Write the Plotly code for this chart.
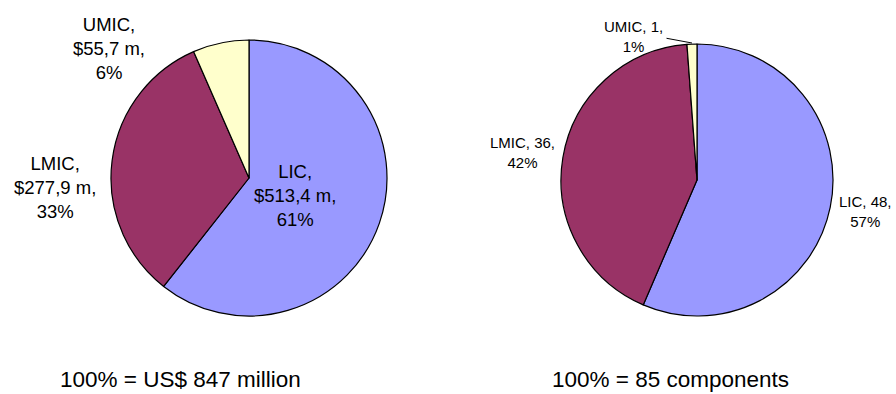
import plotly.graph_objects as go

# Funding split by income group
categories = ["LIC", "LMIC", "UMIC"]
funding_musd = [513.4, 277.9, 55.7]
funding_pct = ["61%", "33%", "6%"]
funding_total = "100% = US$ 847 million"

# Number of components by income group
components = [48, 36, 1]
components_pct = ["57%", "42%", "1%"]
components_total = "100% = 85 components"

colors = ["#9999FF", "#993366", "#FFFFCC"]
W, H = 896, 394
FONT = "Liberation Sans, Arial, sans-serif"


def px_x(x):
    return x / W


def px_y(y):
    return 1 - y / H


def money(v):
    return "$" + f"{v:.1f}".replace(".", ",") + " m"


def label(x, y, text, size):
    return dict(
        x=px_x(x), y=px_y(y), xref="paper", yref="paper", showarrow=False,
        xanchor="center", yanchor="middle", align="center", text=text,
        font=dict(family=FONT, size=size, color="black"),
    )


fig = go.Figure()

fig.add_trace(go.Pie(
    labels=categories, values=funding_musd, sort=False, direction="clockwise",
    rotation=0, marker=dict(colors=colors, line=dict(color="black", width=1.2)),
    textinfo="none", hoverinfo="label+value+percent", showlegend=False,
    domain=dict(x=[px_x(111), px_x(387)], y=[px_y(316), px_y(40)]),
))

fig.add_trace(go.Pie(
    labels=categories, values=components, sort=False, direction="clockwise",
    rotation=0, marker=dict(colors=colors, line=dict(color="black", width=1.2)),
    textinfo="none", hoverinfo="label+value+percent", showlegend=False,
    domain=dict(x=[px_x(561), px_x(833)], y=[px_y(316), px_y(44)]),
))

annotations = []

# labels for the funding pie: (x, y) centre of each text block in pixels
left_pos = [(295, 195), (55, 187), (109, 48)]
for cat, v, pct, (x, y) in zip(categories, funding_musd, funding_pct, left_pos):
    annotations.append(label(x, y, f"{cat},<br>{money(v)},<br>{pct}", 18.5))

# labels for the components pie
right_pos = [(865, 212), (522, 152), (633, 36)]
for cat, v, pct, (x, y) in zip(categories, components, components_pct, right_pos):
    annotations.append(label(x, y, f"{cat}, {v},<br>{pct}", 15))

# leader line for the thin UMIC slice
annotations.append(dict(
    x=px_x(692), y=px_y(43), xref="paper", yref="paper",
    ax=-27, ay=-5, axref="pixel", ayref="pixel",
    showarrow=True, arrowhead=0, arrowwidth=1, arrowcolor="black", text="",
))

# totals under each pie
for txt, x in [(funding_total, 180), (components_total, 670)]:
    annotations.append(label(x, 379, txt, 22.5))

fig.update_layout(
    width=W, height=H, margin=dict(l=0, r=0, t=0, b=0),
    paper_bgcolor="white", plot_bgcolor="white",
    annotations=annotations,
)

fig.write_html("out.html")
